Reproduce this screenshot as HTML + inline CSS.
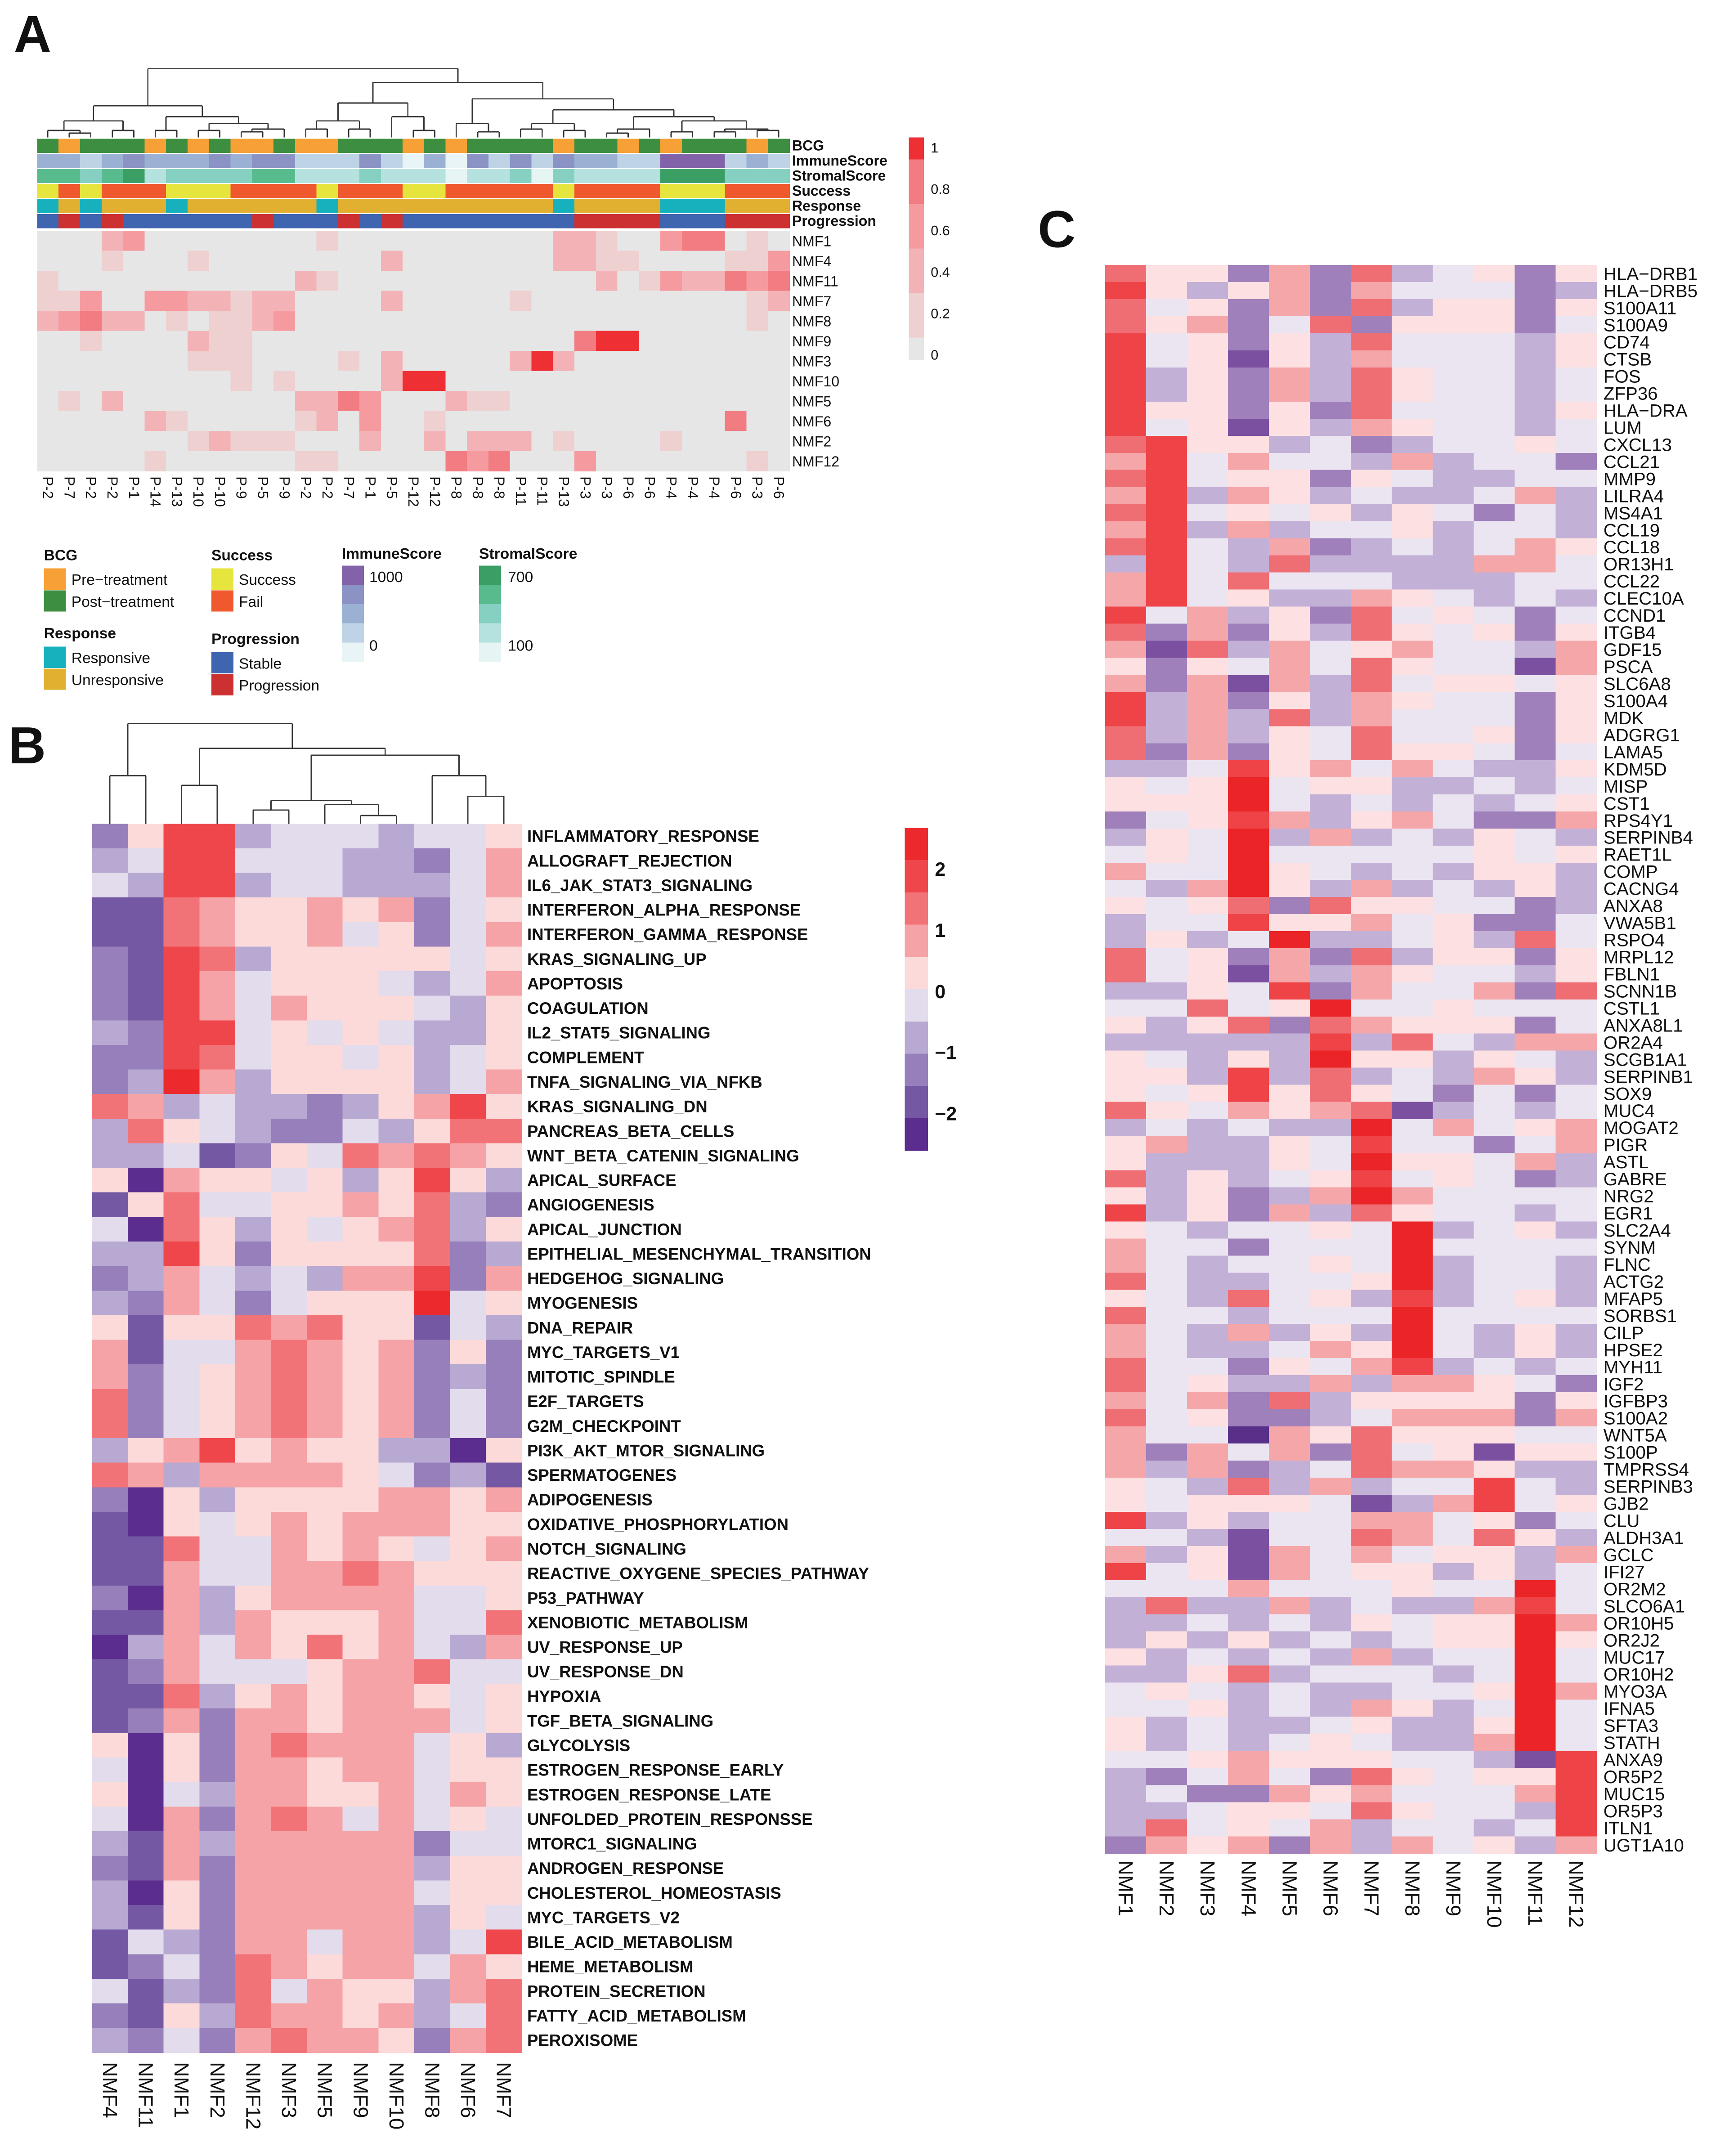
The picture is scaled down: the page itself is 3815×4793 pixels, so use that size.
<!DOCTYPE html>
<html><head><meta charset="utf-8">
<style>
html,body{margin:0;padding:0;background:#fff;}
svg{display:block;}
text{font-family:"Liberation Sans",Arial,sans-serif;fill:#111;}
</style></head>
<body>
<svg id="fig" xmlns="http://www.w3.org/2000/svg" width="3815" height="4793" viewBox="0 0 1250 1570.4" shape-rendering="crispEdges">
<rect width="1250" height="1571" fill="#fff"/>
<text x="10" y="38" font-size="38" font-weight="bold">A</text>
<text x="6" y="556" font-size="38" font-weight="bold">B</text>
<text x="756" y="180" font-size="38" font-weight="bold">C</text>
<g id="gA"></g>
<g id="gB"></g>
<g id="gC"></g>
</svg>
<script>
// ---------- Panel A data ----------
const aCols = ["P-2","P-7","P-2","P-2","P-1","P-14","P-13","P-10","P-10","P-9","P-5","P-9","P-2","P-2","P-7","P-1","P-5","P-12","P-12","P-8","P-8","P-8","P-11","P-11","P-13","P-3","P-3","P-6","P-6","P-4","P-4","P-4","P-6","P-3","P-6"];
const aBCG = "GOGGGOGOGOOGOOGGGOGOGGGGOGGOGOGGGOG";
const aImmune = [2,2,1,2,3,2,2,2,3,2,3,3,1,1,1,3,1,0,2,0,3,1,3,1,3,2,2,1,1,4,4,4,1,2,1];
const aStromal = [3,3,2,3,4,1,2,2,2,2,3,3,1,1,1,2,1,1,1,0,1,1,2,0,2,1,1,1,1,4,4,4,2,2,2];
const aSuccess = "YFYFFFYYYFFFFYFFFYYFFFFFYFFFFYYYFFF";
const aResponse = "CUCUUUCUUUUUUCUUUUUUUUUUCUUUUCCCUUU";
const aProgression = "SPSPSSSSSSPSSSPSPSSSSSSSSPPPPSSSPPP";
const aRows = ["NMF1","NMF4","NMF11","NMF7","NMF8","NMF9","NMF3","NMF10","NMF5","NMF6","NMF2","NMF12"];
const aVals = [
"00023000000001000000000000022100344010".slice(0,0)+"00023"+"00000000"+"1"+"0000000000"+"22100"+"344010",
"00010"+"00100"+"000000"+"2"+"0000000"+"2211"+"0000"+"113",
"1"+"00000000000"+"21"+"000000000000"+"2"+"0"+"1"+"322434",
"113"+"00"+"33"+"22"+"1"+"22"+"0000"+"2"+"00000"+"1"+"0000000000"+"12",
"23422"+"01011"+"23"+"000000000000000000000"+"10",
"001"+"0000"+"2"+"11"+"000000000000000"+"455"+"0000000",
"0000000"+"111"+"0000"+"1"+"0"+"2"+"00000"+"252"+"0000000000",
"000000000"+"1"+"0"+"1"+"0000"+"255"+"0000000000000000",
"0102"+"00000000"+"2243"+"000"+"211"+"0000000000000",
"00000"+"21"+"00000"+"12"+"0"+"3"+"00"+"1"+"0000000000000"+"4"+"00",
"0000000"+"12"+"111"+"000"+"2"+"00"+"2"+"0"+"222"+"0"+"1"+"0000"+"1"+"00000",
"00000"+"1"+"000000"+"11"+"00000"+"434"+"000"+"3"+"0000000"+"1"+"0"
];
const aTicks = ["1","0.8","0.6","0.4","0.2","0"];

// ---------- Panel B data ----------
const bCols = ["NMF4","NMF11","NMF1","NMF2","NMF12","NMF3","NMF5","NMF9","NMF10","NMF8","NMF6","NMF7"];
const bRows = ["INFLAMMATORY_RESPONSE","ALLOGRAFT_REJECTION","IL6_JAK_STAT3_SIGNALING","INTERFERON_ALPHA_RESPONSE","INTERFERON_GAMMA_RESPONSE","KRAS_SIGNALING_UP","APOPTOSIS","COAGULATION","IL2_STAT5_SIGNALING","COMPLEMENT","TNFA_SIGNALING_VIA_NFKB","KRAS_SIGNALING_DN","PANCREAS_BETA_CELLS","WNT_BETA_CATENIN_SIGNALING","APICAL_SURFACE","ANGIOGENESIS","APICAL_JUNCTION","EPITHELIAL_MESENCHYMAL_TRANSITION","HEDGEHOG_SIGNALING","MYOGENESIS","DNA_REPAIR","MYC_TARGETS_V1","MITOTIC_SPINDLE","E2F_TARGETS","G2M_CHECKPOINT","PI3K_AKT_MTOR_SIGNALING","SPERMATOGENES","ADIPOGENESIS","OXIDATIVE_PHOSPHORYLATION","NOTCH_SIGNALING","REACTIVE_OXYGENE_SPECIES_PATHWAY","P53_PATHWAY","XENOBIOTIC_METABOLISM","UV_RESPONSE_UP","UV_RESPONSE_DN","HYPOXIA","TGF_BETA_SIGNALING","GLYCOLYSIS","ESTROGEN_RESPONSE_EARLY","ESTROGEN_RESPONSE_LATE","UNFOLDED_PROTEIN_RESPONSSE","MTORC1_SIGNALING","ANDROGEN_RESPONSE","CHOLESTEROL_HOMEOSTASIS","MYC_TARGETS_V2","BILE_ACID_METABOLISM","HEME_METABOLISM","PROTEIN_SECRETION","FATTY_ACID_METABOLISM","PEROXISOME"];
const bVals = ["cfiideeedeef","deiieeeddceg","ediideedddeg","bbhgffgfgcef","bbhgffgefceg","cbihdfffffef","cbigefffedeg","cbigegfffedf","dciiefefeddf","cciheffefdef","cdjgdffffdeg","hgdeddcdfgif","dhfedccedfhh","ddebcfehghgf","fagffefdfifd","bfheeffgfhdc","eahfdfefghdf","ddifcffffhcd","cdgededggicg","dcgecefffjef","fbffhghffbed","gbeeghgfgcfc","gcefghgfgcdc","hcefghgfgcec","hcefghgfgcec","dfgifgffddaf","hgdggggfecdb","cafdffffggfg","bafefgfgggff","bbheegfgfefg","bbgeegghgfff","cagdfggggeef","bbgdgfffgeeh","adgegfhfgedg","bcgeeefgghee","bbhdfgfggfef","bcgcggfgggef","fafcghgggefd","eafcggfggeff","faedggffgegf","eagcghgegefe","dbgdgggggcee","cbgcgggggdff","dafcgggggeff","dbfcgggggdfe","bedcggeggdei","bcechgfggegf","ebdchegffdgh","cbfdhggfgdeh","dcecghggfcgh"];
const bTicks = ["2","1","0","\u22121","\u22122"];
const bTickVals = [2,1,0,-1,-2];

// ---------- Panel C data ----------
const cCols = ["NMF1","NMF2","NMF3","NMF4","NMF5","NMF6","NMF7","NMF8","NMF9","NMF10","NMF11","NMF12"];
const cRows = ["HLA\u2212DRB1","HLA\u2212DRB5","S100A11","S100A9","CD74","CTSB","FOS","ZFP36","HLA\u2212DRA","LUM","CXCL13","CCL21","MMP9","LILRA4","MS4A1","CCL19","CCL18","OR13H1","CCL22","CLEC10A","CCND1","ITGB4","GDF15","PSCA","SLC6A8","S100A4","MDK","ADGRG1","LAMA5","KDM5D","MISP","CST1","RPS4Y1","SERPINB4","RAET1L","COMP","CACNG4","ANXA8","VWA5B1","RSPO4","MRPL12","FBLN1","SCNN1B","CSTL1","ANXA8L1","OR2A4","SCGB1A1","SERPINB1","SOX9","MUC4","MOGAT2","PIGR","ASTL","GABRE","NRG2","EGR1","SLC2A4","SYNM","FLNC","ACTG2","MFAP5","SORBS1","CILP","HPSE2","MYH11","IGF2","IGFBP3","S100A2","WNT5A","S100P","TMPRSS4","SERPINB3","GJB2","CLU","ALDH3A1","GCLC","IFI27","OR2M2","SLCO6A1","OR10H5","OR2J2","MUC17","OR10H2","MYO3A","IFNA5","SFTA3","STATH","ANXA9","OR5P2","MUC15","OR5P3","ITLN1","UGT1A10"];
const cVals = ["hffcgchdefcf","ifdfgcgeeecd","hefcgchdffcf","hfgcehcfffce","iefcfdheeedf","iefbfdgeeedf","idfcgdhfeede","idfcgdhfeede","iffcfcheeedf","iefbfdgfeede",
"hiffdecdeefe","giegeedgdeec","hiefcfeddedf".slice(0,0)+"hieffcfeddeed".slice(0,12),"gidgfdeddegd","hiefefdfeced","gidgdeefdeed","hiedgcdedegf","dieddhdddgge".slice(0,0)+"diedhddddgge","gieheeedddee","giefddgfeded",
"iegdfchefece","hcgcfdhfefcf","gbhdgefgeedg","fcfegehfeebg","gcgbgdheffef","idgcfdgfeecf","idgdhdgeeecf","hdgdfehееfcf".replace(/е/g,"e"),"hcgcfehffece","ddeifgegeddf",
"fefjeffddede","fffjedededef","cefigdfgeccg","dfejdgdedfed","efejeeeeefef","geejfedednfd".replace("n","f"),"edgjfdgdedfd","fefhchffeecd","deeiffgefcce","dfdejddefdhe",
"hefcgchdffcf","hefbgdgfeedf","ddfeicgeegch","eehefjeefeee","fdfhchgfffce","ddddidhedggg".slice(0,0)+"dddddidhedgg","fedfdjffdfed","ffdidhdedgfd","fefifhfecece","hfegfghbdede",
"dededdjegefg","fgddfeieeceg","fdddfejffegd","hdfdefiefecd","fdfcdgjgeeee","idfcgdhfeede","fedeefejdefd","geeceeejeeee","gedeefejdeed","hedd efjdeed".replace(" ","e"),"fedhefdidefd",
"heedeeejeeee","gedgdfdjedfd","geddegfjedfd","heecfegidede","hefddgdggfec","gegchdffffcf","hefccdegggcg","geeagfhfffee","gcgegchefffb".slice(0,0)+"gcgegchefbf".padEnd(12,"f"),"gdgcdehggfdd",
"fedhdgdeeied","fefffebdgief","idfdeeggefce","eedbeehgehfd","gdfbgegeffdg","iefbgeffdfde","eeegeeefeeje","dhddgdeddgie","ddededfeffjg","dfdfdedeffjf",
"fdededgdeeje","ddfhdeeedeje","efededdeefjg","eefdedgfdeje","fdeddefddfje","fdedefeddgje","eefgfffeedbi","dcegechfeffi","decc gfgeeegi".replace(" ",""),"ddeffehfeedi","dhefegdeedei","cgfgcgdgefdg"];

// ---------- palettes ----------
const palA = ["#e6e6e6","#eed0d1","#f3b3b6","#f59ba0","#f17c81","#ee2f34"];
const palB = {a:"#5b2d8e",b:"#7558a3",c:"#967fba",d:"#b8a9d2",e:"#e3dcec",f:"#fcdada",g:"#f5a3a6",h:"#f27377",i:"#ef464b",j:"#ec2a2e"};
const palC = {a:"#58308a",b:"#7b50a0",c:"#9f80bb",d:"#c3b0d6",e:"#ebe5f1",f:"#fde0e2",g:"#f5a6a9",h:"#ef6e73",i:"#ee4448",j:"#ea2427"};
const bcgCol = {G:"#3e8e41",O:"#f7a035"};
const immCol = ["#e8f4f5","#bfd3e6","#9bb1d3","#8a93c4","#8262a8"];
const stroCol = ["#e6f5f4","#b5e2df","#85d0c0","#57bb8e","#3b9e64"];
const sucCol = {Y:"#e6e53e",F:"#f0582e"};
const resCol = {C:"#17b1bd",U:"#e1b030"};
const proCol = {S:"#3f64b0",P:"#cc3030"};

const NS = "http://www.w3.org/2000/svg";
function mk(parent, tag, attrs){
  const el = document.createElementNS(NS, tag);
  for (const k in attrs) el.setAttribute(k, attrs[k]);
  parent.appendChild(el);
  return el;
}
function txt(parent, x, y, s, size, weight, anchor){
  const t = mk(parent, "text", {x:x, y:y, "font-size":size});
  if (weight) t.setAttribute("font-weight", weight);
  if (anchor) t.setAttribute("text-anchor", anchor);
  t.textContent = s;
  return t;
}
function drawTree(parent, node, xOf, baseY){
  if (typeof node === "number") return {x:xOf(node), y:baseY};
  const h = node[0];
  const kids = node.slice(1).map(n => drawTree(parent, n, xOf, baseY));
  const xs = kids.map(k => k.x);
  const p = [];
  kids.forEach(k => p.push("M"+k.x+","+k.y+"V"+h));
  p.push("M"+Math.min(...xs)+","+h+"H"+Math.max(...xs));
  const path = mk(parent, "path", {d:p.join(""), stroke:"#333", "stroke-width":0.9, fill:"none"});
  
  
  return {x:(Math.min(...xs)+Math.max(...xs))/2, y:h};
}

// ================= PANEL A =================
(function(){
  const g = document.getElementById("gA");
  const x0 = 27, x1 = 575, cw = (x1-x0)/aCols.length;
  const xA = i => x0 + cw*i;
  const annY = [101,112,123,134,145,156], annH = 10.3;
  const annNames = ["BCG","ImmuneScore","StromalScore","Success","Response","Progression"];
  const annFns = [
    i => bcgCol[aBCG[i]], i => immCol[aImmune[i]], i => stroCol[aStromal[i]],
    i => sucCol[aSuccess[i]], i => resCol[aResponse[i]], i => proCol[aProgression[i]]
  ];
  annNames.forEach((nm, r) => {
    for (let i = 0; i < aCols.length; i++){
      const c = mk(g, "rect", {x:xA(i), y:annY[r], width:cw+0.4, height:annH, fill:annFns[r](i)});
      
      
    }
    const t = txt(g, 577, annY[r]+8.5, nm, 10.5, "bold");
    
    
  });
  const hy0 = 168, hy1 = 343, rh = (hy1-hy0)/aRows.length;
  aRows.forEach((nm, r) => {
    for (let i = 0; i < aCols.length; i++){
      const c = mk(g, "rect", {x:xA(i), y:hy0+rh*r, width:cw+0.4, height:rh+0.4, fill:palA[+aVals[r][i]]});
      
      
    }
    const t = txt(g, 577, hy0+rh*r+rh/2+4, nm, 10.5);
    
    
  });
  aCols.forEach((nm, i) => {
    const cx = xA(i)+cw/2;
    const t = txt(g, 0, 0, nm, 10.5);
    t.setAttribute("transform", "translate("+(cx-3.5)+",347) rotate(90)");
    
    
  });
  const tree = [50,[77,[88,[95,0,[97,1,2]],[95,3,4]],[85,[95,5,6],[90,[95,7,8],[94,[96,9,10],11]]]],[60,[75,[88,[94,12,13],[94,14,15]],[85,16,[95,17,18]]],[72,[90,19,[96,20,21]],[80,[90,[94,22,23],[95,24,25]],[85,[94,[97,26,27],28],[88,[96,29,30],[94,[96,31,32],[95,33,34]]]]]]]];
  drawTree(g, tree, i => xA(i)+cw/2, 100);
  // colour bar
  const cb = mk(g, "g", {});
  
  
  for (let k = 0; k < 60; k++){
    const v = 1 - k/59;
    const idx = Math.min(5, Math.round(v*5));
    mk(cb, "rect", {x:662, y:100+k*162/60, width:11, height:162/60+0.3, fill:palA[idx]});
  }
  aTicks.forEach((s, k) => {
    const t = txt(g, 678, 111+k*30.2, s, 10);
    
    
  });
  // legends
  const leg = mk(g, "g", {});
  
  
  function block(x, y, title, items){
    txt(leg, x, y, title, 11, "bold");
    items.forEach((it, k) => {
      mk(leg, "rect", {x:x, y:y+6+k*16, width:16, height:15.5, fill:it[0]});
      txt(leg, x+20, y+18+k*16, it[1], 11);
    });
  }
  block(32, 408, "BCG", [[bcgCol.O,"Pre\u2212treatment"],[bcgCol.G,"Post\u2212treatment"]]);
  block(32, 465, "Response", [[resCol.C,"Responsive"],[resCol.U,"Unresponsive"]]);
  block(154, 408, "Success", [[sucCol.Y,"Success"],[sucCol.F,"Fail"]]);
  block(154, 469, "Progression", [[proCol.S,"Stable"],[proCol.P,"Progression"]]);
  txt(leg, 249, 407, "ImmuneScore", 11, "bold");
  [4,3,2,1,0].forEach((v,k) => mk(leg, "rect", {x:249, y:412+k*14, width:16, height:14.2, fill:immCol[v]}));
  txt(leg, 269, 424, "1000", 11); txt(leg, 269, 474, "0", 11);
  txt(leg, 349, 407, "StromalScore", 11, "bold");
  [4,3,2,1,0].forEach((v,k) => mk(leg, "rect", {x:349, y:412+k*14, width:16, height:14.2, fill:stroCol[v]}));
  txt(leg, 370, 424, "700", 11); txt(leg, 370, 474, "100", 11);
})();

// ================= PANEL B =================
(function(){
  const g = document.getElementById("gB");
  const x0 = 67, x1 = 380, y0 = 600, y1 = 1495;
  const cw = (x1-x0)/bCols.length, rh = (y1-y0)/bRows.length;
  const xB = i => x0 + cw*i;
  bRows.forEach((nm, r) => {
    for (let i = 0; i < bCols.length; i++){
      const c = mk(g, "rect", {x:xB(i), y:y0+rh*r, width:cw+0.4, height:rh+0.4, fill:palB[bVals[r][i]]});
      
      
    }
    const t = txt(g, 384, y0+rh*r+rh/2+4.3, nm, 12, "bold");
    
    
  });
  bCols.forEach((nm, i) => {
    const t = txt(g, 0, 0, nm, 15);
    t.setAttribute("transform", "translate("+(xB(i)+cw/2-5)+",1502) rotate(90)");
    
    
  });
  const tree = [527,[565,0,1],[545,[572,2,3],[550,[583,[590,4,5],[586,6,[594,7,8]]],[565,9,[580,10,11]]]]];
  drawTree(g, tree, i => xB(i)+cw/2, 600);
  const cb = mk(g, "g", {});
  
  
  const stops = ["j","i","h","g","f","e","d","c","b","a"];
  for (let k = 0; k < 10; k++){
    mk(cb, "rect", {x:659, y:603+k*23.5, width:17, height:23.8, fill:palB[stops[k]]});
  }
  const vy = v => 722 - v*44.5;
  bTicks.forEach((s, k) => {
    const t = txt(g, 681, vy(bTickVals[k])+5, s, 14, "bold");
    
    
  });
})();

// ================= PANEL C =================
(function(){
  const g = document.getElementById("gC");
  const x0 = 805, x1 = 1163, y0 = 193, y1 = 1350;
  const cw = (x1-x0)/cCols.length, rh = (y1-y0)/cRows.length;
  const xC = i => x0 + cw*i;
  cRows.forEach((nm, r) => {
    const row = cVals[r];
    for (let i = 0; i < cCols.length; i++){
      const c = mk(g, "rect", {x:xC(i), y:y0+rh*r, width:cw+0.4, height:rh+0.4, fill:palC[row[i]] || palC.e});
      
      
    }
    const t = txt(g, 1168, y0+rh*r+rh/2+4.8, nm, 13.2);
    
    
  });
  cCols.forEach((nm, i) => {
    const t = txt(g, 0, 0, nm, 15);
    t.setAttribute("transform", "translate("+(xC(i)+cw/2-5)+",1355) rotate(90)");
    
    
  });
})();
</script>
</body></html>
